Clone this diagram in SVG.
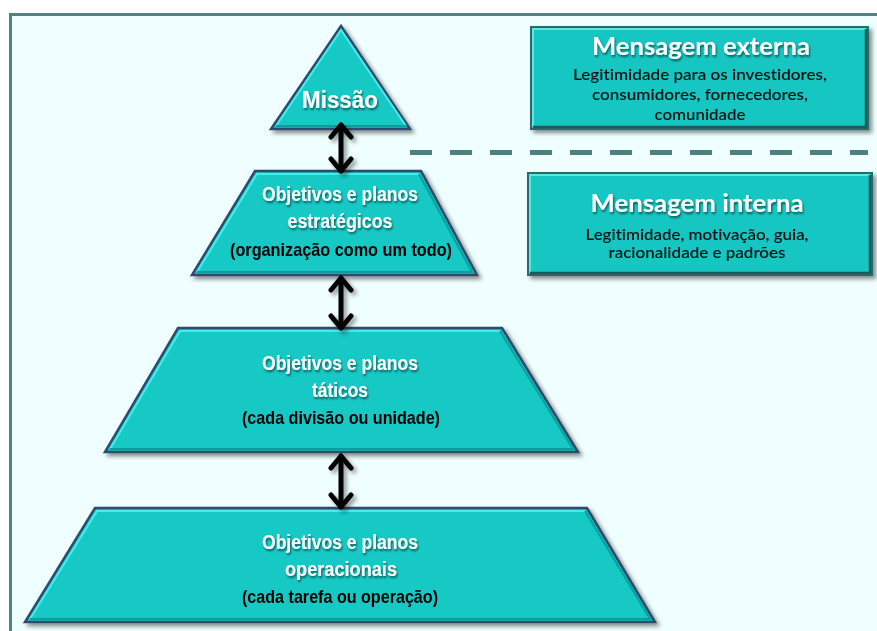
<svg xmlns="http://www.w3.org/2000/svg" width="877" height="631" viewBox="0 0 877 631">
  <defs>
    <style>
      .tier { fill: #14c9c5; stroke: #2d4c6c; stroke-width: 2.5; stroke-linejoin: miter; }
      .hi { fill: none; stroke: #46ecea; stroke-width: 2; }
      .lo { fill: none; stroke: #0f9e9b; stroke-width: 2; }
      .box { fill: #14c6c2; stroke: #2b6b6b; stroke-width: 2; }
      .bx-hi { fill: none; stroke: #5de6e2; stroke-width: 2; }
      .bx-lo { fill: none; stroke: #1d5a5a; stroke-width: 2.5; }
      .wt { font-family: "Liberation Sans Narrow", "Liberation Sans", Arial, sans-serif; font-weight: bold; fill: #ffffff; text-anchor: middle; }
      .bt { font-family: "Liberation Sans Narrow", "Liberation Sans", Arial, sans-serif; font-weight: bold; fill: #000000; text-anchor: middle; }
      .ttl { font-family: Lato, "Open Sans", "Liberation Sans", sans-serif; font-weight: bold; fill: #ffffff; text-anchor: middle; font-variant-ligatures: none; }
      .sub { font-family: Lato, "Open Sans", "Liberation Sans", sans-serif; font-weight: 600; fill: #061414; text-anchor: middle; font-variant-ligatures: none; }
      .conn { fill: none; stroke: #000000; stroke-width: 5; stroke-linecap: round; }
      .dash { fill: none; stroke: #4b8281; stroke-width: 5; stroke-dasharray: 22 18; }
    </style>
    <filter id="shadow" x="-10%" y="-10%" width="130%" height="130%">
      <feGaussianBlur in="SourceAlpha" stdDeviation="2"/>
      <feOffset dx="3" dy="3" result="b"/>
      <feComponentTransfer><feFuncA type="linear" slope="0.45"/></feComponentTransfer>
      <feMerge><feMergeNode/><feMergeNode in="SourceGraphic"/></feMerge>
    </filter>
    <!-- user-space region so zero-width line groups still render -->
    <filter id="connShadow" filterUnits="userSpaceOnUse" x="0" y="0" width="877" height="631">
      <feGaussianBlur in="SourceAlpha" stdDeviation="2"/>
      <feOffset dx="3" dy="3" result="b"/>
      <feComponentTransfer><feFuncA type="linear" slope="0.4"/></feComponentTransfer>
      <feMerge><feMergeNode/><feMergeNode in="SourceGraphic"/></feMerge>
    </filter>
    <filter id="tshadow" x="-10%" y="-20%" width="120%" height="150%">
      <feGaussianBlur in="SourceAlpha" stdDeviation="1"/>
      <feOffset dx="1" dy="1.5" result="b"/>
      <feComponentTransfer><feFuncA type="linear" slope="0.55"/></feComponentTransfer>
      <feMerge><feMergeNode/><feMergeNode in="SourceGraphic"/></feMerge>
    </filter>
    <marker id="chev" viewBox="-18 -13 22 26" markerWidth="22" markerHeight="26" refX="0" refY="0" markerUnits="userSpaceOnUse" orient="auto-start-reverse">
      <path d="M-12,-10 L0,0 L-12,10" fill="none" stroke="#000" stroke-width="5" stroke-linecap="round" stroke-linejoin="round"/>
    </marker>
  </defs>

  <!-- page and frame -->
  <rect x="0" y="0" width="877" height="631" fill="#ffffff"/>
  <rect x="11" y="15" width="866" height="616" fill="#effefe"/>
  <line x1="9.5" y1="14.5" x2="877" y2="14.5" stroke="#4d8383" stroke-width="3"/>
  <line x1="10.5" y1="13" x2="10.5" y2="631" stroke="#4d8383" stroke-width="3"/>

  <!-- divider between external and internal message -->
  <line class="dash" x1="410" y1="152.5" x2="868" y2="152.5"/>

  <!-- pyramid tiers -->
  <g id="missao" filter="url(#shadow)">
    <polygon class="tier" points="341,26 410,129 271,129"/>
    <polyline class="hi" points="276,126 341,30 406,126"/>
    <line class="lo" x1="276" y1="126" x2="406" y2="126"/>
    <text class="wt" x="340" y="108" font-size="24" textLength="76" lengthAdjust="spacingAndGlyphs" filter="url(#tshadow)">Missão</text>
  </g>

  <g id="estrategicos" filter="url(#shadow)">
    <polygon class="tier" points="255,171 421,171 477,275 192,275"/>
    <polyline class="hi" points="197,272 257,174 419,174"/>
    <polyline class="lo" points="419,174 472,272 197,272"/>
    <text class="wt" x="340" y="201" font-size="20" textLength="156" lengthAdjust="spacingAndGlyphs" filter="url(#tshadow)">Objetivos e planos</text>
    <text class="wt" x="340" y="228" font-size="20" textLength="105" lengthAdjust="spacingAndGlyphs" filter="url(#tshadow)">estratégicos</text>
    <text class="bt" x="341" y="256" font-size="19" textLength="222" lengthAdjust="spacingAndGlyphs">(organização como um todo)</text>
  </g>

  <g id="taticos" filter="url(#shadow)">
    <polygon class="tier" points="178,328 502,328 578,452 105,452"/>
    <polyline class="hi" points="110,449 180,331 500,331"/>
    <polyline class="lo" points="500,331 573,449 110,449"/>
    <text class="wt" x="340" y="370" font-size="20" textLength="156" lengthAdjust="spacingAndGlyphs" filter="url(#tshadow)">Objetivos e planos</text>
    <text class="wt" x="340" y="397" font-size="20" textLength="56" lengthAdjust="spacingAndGlyphs" filter="url(#tshadow)">táticos</text>
    <text class="bt" x="341" y="424" font-size="19" textLength="198" lengthAdjust="spacingAndGlyphs">(cada divisão ou unidade)</text>
  </g>

  <g id="operacionais" filter="url(#shadow)">
    <polygon class="tier" points="95,508 587,508 655,622 25,622"/>
    <polyline class="hi" points="30,619 97,511 585,511"/>
    <polyline class="lo" points="585,511 650,619 30,619"/>
    <text class="wt" x="340" y="549" font-size="20" textLength="156" lengthAdjust="spacingAndGlyphs" filter="url(#tshadow)">Objetivos e planos</text>
    <text class="wt" x="341" y="576" font-size="20" textLength="112" lengthAdjust="spacingAndGlyphs" filter="url(#tshadow)">operacionais</text>
    <text class="bt" x="340" y="603" font-size="19" textLength="196" lengthAdjust="spacingAndGlyphs">(cada tarefa ou operação)</text>
  </g>

  <!-- message boxes -->
  <g id="mensagem-externa" filter="url(#shadow)">
    <rect class="box" x="531" y="27" width="337" height="102"/>
    <polyline class="bx-hi" points="533,127 533,29 866,29"/>
    <polyline class="bx-lo" points="866,29 866,127 533,127"/>
    <text class="ttl" x="701" y="55" font-size="24" textLength="218" lengthAdjust="spacingAndGlyphs" filter="url(#tshadow)">Mensagem externa</text>
    <text class="sub" x="700" y="80" font-size="15" textLength="254" lengthAdjust="spacingAndGlyphs">Legitimidade para os investidores,</text>
    <text class="sub" x="700" y="100" font-size="15" textLength="216" lengthAdjust="spacingAndGlyphs">consumidores, fornecedores,</text>
    <text class="sub" x="700" y="120" font-size="15" textLength="91" lengthAdjust="spacingAndGlyphs">comunidade</text>
  </g>

  <g id="mensagem-interna" filter="url(#shadow)">
    <rect class="box" x="528" y="173" width="344" height="102"/>
    <polyline class="bx-hi" points="530,273 530,175 870,175"/>
    <polyline class="bx-lo" points="870,175 870,273 530,273"/>
    <text class="ttl" x="697" y="212" font-size="24" textLength="213" lengthAdjust="spacingAndGlyphs" filter="url(#tshadow)">Mensagem interna</text>
    <text class="sub" x="697" y="240" font-size="15" textLength="223" lengthAdjust="spacingAndGlyphs">Legitimidade, motivação, guia,</text>
    <text class="sub" x="697" y="258" font-size="15" textLength="177" lengthAdjust="spacingAndGlyphs">racionalidade e padrões</text>
  </g>

  <!-- two-way connectors between tiers -->
  <g id="connectors" filter="url(#connShadow)">
    <line class="conn" x1="341" y1="125" x2="341" y2="171" marker-start="url(#chev)" marker-end="url(#chev)"/>
    <line class="conn" x1="341" y1="278" x2="341" y2="328" marker-start="url(#chev)" marker-end="url(#chev)"/>
    <line class="conn" x1="341" y1="456" x2="341" y2="507" marker-start="url(#chev)" marker-end="url(#chev)"/>
  </g>
</svg>
